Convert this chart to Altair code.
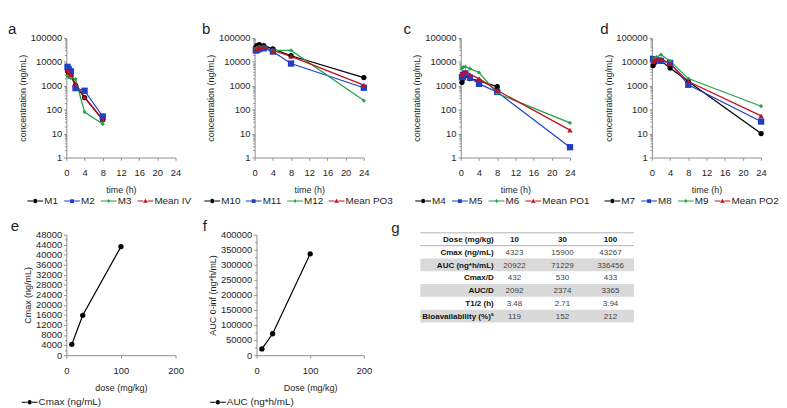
import altair as alt
import pandas as pd

FONT = "Liberation Sans"
TXT = "#1e1e1e"
AX = "#8a8a8a"

# ---------------- data ----------------
SERIES_COLORS = ["#000000", "#1f3fc6", "#22a34a", "#c0121c"]
MARK_SHAPES = ["circle", "square", "diamond", "triangle-up"]
MARK_SIZES = [32, 45, 20, 32]

TIMES_IV = [0.25, 0.5, 1, 2, 4, 8]
IV_NAMES = ["M1", "M2", "M3", "Mean IV"]
M1 = [4300, 3500, 2600, 1000, 320, 38]
M2 = [6200, 5000, 4000, 800, 620, 52]
M3 = [2600, 2300, 2100, 1900, 80, 25]
MEAN_IV = [4400, 3600, 2900, 1200, 340, 38]

TIMES_PO = [0.25, 0.5, 1, 2, 4, 8, 24]
PO3_NAMES = ["M10", "M11", "M12", "Mean PO3"]
M10 = [40000, 48000, 52000, 48000, 35000, 18000, 2200]
M11 = [30000, 31000, 34000, 37000, 27000, 8500, 830]
M12 = [35000, 38000, 42000, 40000, 30000, 30000, 240]
MEAN_PO3 = [33000, 37000, 42000, 41000, 30000, 17000, 1070]

PO1_NAMES = ["M4", "M5", "M6", "Mean PO1"]
M4 = [1400, 2000, 2700, 2000, 1600, 920, None]
M5 = [2300, 2800, 3300, 2200, 1200, 550, 2.7]
M6 = [5500, 6000, 6200, 5200, 3600, 480, 28]
MEAN_PO1 = [3000, 3600, 4000, 3000, 2000, 640, 14]

PO2_NAMES = ["M7", "M8", "M9", "Mean PO2"]
M7 = [7000, 9000, 11000, 11000, 5500, 1500, 10]
M8 = [13000, 13000, 12000, 11000, 9000, 1100, 32]
M9 = [10000, 14000, 16000, 20000, 11000, 2000, 140]
MEAN_PO2 = [10000, 12000, 13000, 13500, 8500, 1500, 55]

DOSES = [10, 30, 100]
CMAX = [4323, 15900, 43267]
AUC = [20922, 71229, 336456]

TIME_TICKS = [0, 4, 8, 12, 16, 20, 24]
LOG_TICKS = [1, 10, 100, 1000, 10000, 100000]
LOG_MINOR = [k * 10 ** e for e in range(0, 5) for k in range(2, 10)]
CMAX_TICKS = list(range(0, 48001, 4000))
CMAX_MINOR = list(range(2000, 48000, 4000))
AUC_TICKS = list(range(0, 400001, 50000))
AUC_MINOR = list(range(25000, 400000, 50000))
DOSE_TICKS = [0, 100, 200]

TABLE_COLS = ["label", "10", "30", "100"]
TABLE_ROWS = ["Dose (mg/kg)", "Cmax (ng/mL)", "AUC (ng*h/mL)", "Cmax/D", "AUC/D",
              "T1/2 (h)", "Bioavailability (%)\u00aa"]
COL_10 = ["10", "4323", "20922", "432", "2092", "3.48", "119"]
COL_30 = ["30", "15900", "71229", "530", "2374", "2.71", "152"]
COL_100 = ["100", "43267", "336456", "433", "3365", "3.94", "212"]
SHADED_ROWS = [2, 4, 6]
RULE_ROWS = [0, 1]

# legend symbols: line stub + marker (filled paths, drawn a bit wider than the nominal symbol)
LEG_PATHS = [
    "M-1.4,-0.1H-0.3V0.1H-1.4ZM0.3,-0.1H1.4V0.1H0.3ZM-0.4,0A0.4,0.4,0,1,0,0.4,0A0.4,0.4,0,1,0,-0.4,0Z",
    "M-1.4,-0.1H-0.3V0.1H-1.4ZM0.3,-0.1H1.4V0.1H0.3ZM-0.34,-0.34H0.34V0.34H-0.34Z",
    "M-1.4,-0.1H-0.25V0.1H-1.4ZM0.25,-0.1H1.4V0.1H0.25ZM0,-0.36L0.3,0L0,0.36L-0.3,0Z",
    "M-1.4,-0.1H-0.35V0.1H-1.4ZM0.35,-0.1H1.4V0.1H0.35ZM0,-0.42L0.42,0.32H-0.42Z",
]

INDEP = dict(x="independent", y="independent", color="independent", shape="independent")


def letter_title(letter, dx):
    return alt.TitleParams(text=letter, anchor="start", frame="group", dx=dx,
                           fontSize=16, fontWeight="normal", font=FONT, color=TXT,
                           baseline="alphabetic", offset=-17)


def line_panel(letter, names, xs, series, xscale, xaxis_kw, yscale, yaxis_kw,
               minor, w, h, leg_x, leg_y, letter_dx):
    rows = []
    for name, vals in zip(names, series):
        for xv, yv in zip(xs, vals):
            if yv is not None:
                rows.append({"series": name, "x": xv, "y": yv})
    df = pd.DataFrame(rows)
    n = len(names)
    base = alt.Chart(df)

    xa = alt.X("x:Q", scale=xscale, axis=alt.Axis(**xaxis_kw))
    ya = alt.Y("y:Q", scale=yscale, axis=alt.Axis(**yaxis_kw))
    yn = alt.Y("y:Q", scale=yscale, axis=None)

    layers = []
    for i, name in enumerate(names):
        layers.append(
            base.transform_filter(alt.datum.series == name)
            .mark_line(strokeWidth=1.3, color=SERIES_COLORS[i])
            .encode(x=xa, y=ya if i == 0 else yn))
    for i, name in enumerate(names):
        layers.append(
            base.transform_filter(alt.datum.series == name)
            .mark_point(filled=True, opacity=1, shape=MARK_SHAPES[i], size=MARK_SIZES[i],
                        color=SERIES_COLORS[i])
            .encode(x=xa, y=yn))
    leg = alt.Legend(title=None, orient="none", legendX=leg_x, legendY=leg_y,
                     direction="horizontal", symbolSize=144, symbolStrokeWidth=0,
                     labelFont=FONT, labelFontSize=10.5, labelColor=TXT, labelOffset=3.5,
                     columnPadding=5, padding=0)
    cscale = alt.Scale(domain=names, range=SERIES_COLORS[:n])
    legend_layer = base.transform_filter("false").mark_point(filled=True, opacity=1).encode(
        x=xa,
        y=alt.Y("y:Q", scale=yscale,
                axis=alt.Axis(orient="left", values=minor, labels=False, tickSize=2,
                              domain=False, title=None, grid=False, ticks=True)),
        color=alt.Color("series:N", scale=cscale, legend=leg),
        shape=alt.Shape("series:N", scale=alt.Scale(domain=names, range=LEG_PATHS[:n]), legend=leg),
    )
    layers.append(legend_layer)
    return alt.layer(*layers).resolve_axis(y="independent").properties(
        width=w, height=h, title=letter_title(letter, letter_dx))


time_scale = alt.Scale(domain=[0, 24], nice=False)
log_scale = alt.Scale(type="log", domain=[1, 100000], nice=False)
time_axis = dict(values=TIME_TICKS, title="time (h)", labelFlush=False)
log_axis = dict(values=LOG_TICKS, format="d", title="concentration (ng/mL)")

H_TOP = 127
LEG_TOP = 167
LEG_BOT = 172
pa = line_panel("a", IV_NAMES, TIMES_IV, [M1, M2, M3, MEAN_IV], time_scale, time_axis,
                log_scale, log_axis, LOG_MINOR, 116, H_TOP, -39, LEG_TOP, -62)
pb = line_panel("b", PO3_NAMES, TIMES_PO, [M10, M11, M12, MEAN_PO3], time_scale, time_axis,
                log_scale, log_axis, LOG_MINOR, 116, H_TOP, -51, LEG_TOP, -56)
pc = line_panel("c", PO1_NAMES, TIMES_PO, [M4, M5, M6, MEAN_PO1], time_scale, time_axis,
                log_scale, log_axis, LOG_MINOR, 116, H_TOP, -46, LEG_TOP, -61)
pd_ = line_panel("d", PO2_NAMES, TIMES_PO, [M7, M8, M9, MEAN_PO2], time_scale, time_axis,
                 log_scale, log_axis, LOG_MINOR, 116, H_TOP, -48, LEG_TOP, -55)

dose_scale = alt.Scale(domain=[0, 200], nice=False)
pe = line_panel("e", ["Cmax (ng/mL)"], DOSES, [CMAX], dose_scale,
                dict(values=DOSE_TICKS, title="dose (mg/kg)", labelFlush=False),
                alt.Scale(domain=[0, 48000], nice=False),
                dict(values=CMAX_TICKS, format="d", title="Cmax (ng/mL)"),
                CMAX_MINOR, 116, 128, -45, LEG_BOT, -59)
pf = line_panel("f", ["AUC (ng*h/mL)"], DOSES, [AUC], dose_scale,
                dict(values=DOSE_TICKS, title="Dose (mg/kg)", labelFlush=False),
                alt.Scale(domain=[0, 400000], nice=False),
                dict(values=AUC_TICKS, format="d", title="AUC 0-inf (ng*h/mL)"),
                AUC_MINOR, 114, 128, -47, LEG_BOT, -57)

# ---------------- table g ----------------
cells = []
for i, lab in enumerate(TABLE_ROWS):
    cells.append({"row": i, "col": "label", "text": lab})
    for col, vals in zip(["10", "30", "100"], [COL_10, COL_30, COL_100]):
        cells.append({"row": i, "col": col, "text": vals[i]})
cells_df = pd.DataFrame(cells)
shade_df = pd.DataFrame({"row": SHADED_ROWS})
rule_df = pd.DataFrame({"row": RULE_ROWS})

TW, TH = 227, 128
row_scale = alt.Scale(domain=[0.147, 0.147 + TH / 13.6], reverse=True, nice=False, zero=False)
col_scale = alt.Scale(domain=TABLE_COLS, range=[49, 202], padding=0)

shade = alt.Chart(shade_df).transform_calculate(row2="datum.row + 1").mark_rect(
    color="#d9d9d9").encode(
    x=alt.value(0), x2=alt.value(TW),
    y=alt.Y("row:Q", scale=row_scale, axis=None), y2="row2:Q")
rules = alt.Chart(rule_df).mark_rule(color="#9a9a9a", strokeWidth=0.8).encode(
    x=alt.value(0), x2=alt.value(TW), y=alt.Y("row:Q", scale=row_scale, axis=None))
base_t = alt.Chart(cells_df).transform_calculate(mid="datum.row + 0.5")
xcol = alt.X("col:N", scale=col_scale, axis=None)
ymid = alt.Y("mid:Q", scale=row_scale, axis=None)
labels_t = base_t.transform_filter(alt.datum.col == "label").mark_text(
    align="right", baseline="middle", dx=29, font=FONT, fontSize=8.5, fontWeight="bold",
    color="#111111").encode(x=xcol, y=ymid, text="text:N")
head_t = base_t.transform_filter((alt.datum.col != "label") & (alt.datum.row == 0)).mark_text(
    align="center", baseline="middle", font=FONT, fontSize=8.5, fontWeight="bold",
    color="#111111").encode(x=xcol, y=ymid, text="text:N")
vals_t = base_t.transform_filter((alt.datum.col != "label") & (alt.datum.row > 0)).mark_text(
    align="center", baseline="middle", font=FONT, fontSize=8.5, color="#444444").encode(
    x=xcol, y=ymid, text="text:N")
pg = alt.layer(shade, rules, labels_t, head_t, vals_t).properties(
    width=TW, height=TH, title=letter_title("g", -31))

top = alt.hconcat(pa, pb, pc, pd_, spacing=11).resolve_scale(**INDEP)
bottom = alt.hconcat(pe, pf, pg, spacing=20).resolve_scale(**INDEP)

chart = alt.vconcat(top, bottom, spacing=13).resolve_scale(**INDEP).properties(
    padding={"left": 0, "top": 2, "right": 0, "bottom": 0}
).configure_view(stroke=None).configure_axis(
    labelFont=FONT, labelFontSize=10, labelColor=TXT, titleFont=FONT, titleFontSize=9.5,
    titleFontWeight="normal", titleColor=TXT, domainColor=AX, tickColor=AX, tickSize=3,
    labelPadding=2, titlePadding=3, grid=False
).configure_axisX(labelPadding=8, titlePadding=8).configure_title(font=FONT)

chart.save("out.html", embed_options={"renderer": "svg", "actions": False})
